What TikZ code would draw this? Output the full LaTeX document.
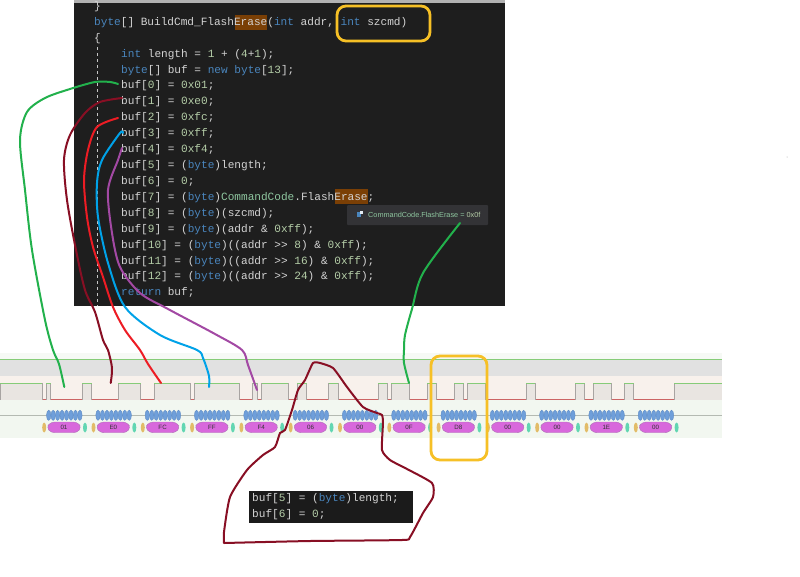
\documentclass[tikz,border=0pt]{standalone}
\usepackage{fontspec}
\setmainfont{Liberation Sans}
\setmonofont{Liberation Mono}
\definecolor{panel}{HTML}{1E1E1E}
\definecolor{codetxt}{HTML}{D4D4D4}
\definecolor{kwblue}{HTML}{4A86BE}
\definecolor{numgreen}{HTML}{B5CEA8}
\definecolor{tygreen}{HTML}{8FC7A0}
\definecolor{hilite}{HTML}{7A3F05}
\definecolor{tipbg}{HTML}{333336}
\definecolor{gold}{HTML}{F6C026}
\definecolor{strokegreen}{HTML}{22B14C}
\definecolor{strokedark}{HTML}{880F24}
\definecolor{strokered}{HTML}{ED1C24}
\definecolor{strokeblue}{HTML}{00A2E8}
\definecolor{strokepurple}{HTML}{A349A4}
\definecolor{HLblue}{HTML}{6F9FDA}
\definecolor{HLblueD}{HTML}{5F8CC6}
\definecolor{HLpink}{HTML}{D868DC}
\definecolor{HLpinkD}{HTML}{B070B8}
\definecolor{HLyel}{HTML}{E2BC68}
\definecolor{HLteal}{HTML}{62D6B2}
\definecolor{bandtop}{HTML}{F6F9F5}
\definecolor{bandgrey}{HTML}{E1E1E1}
\definecolor{bandpink}{HTML}{F8F1EC}
\definecolor{bandgreen}{HTML}{F2F7F0}
\definecolor{pulsefill}{HTML}{E9E5E1}
\definecolor{wavegreen}{HTML}{86CC78}
\definecolor{wavered}{HTML}{CC6464}
\definecolor{waveside}{HTML}{A8A4A2}
\definecolor{midline}{HTML}{B4BAB2}
\newcommand{\kw}[1]{\textcolor{kwblue}{#1}}
\newcommand{\nm}[1]{\textcolor{numgreen}{#1}}
\newcommand{\ty}[1]{\textcolor{tygreen}{#1}}
\tikzset{
  codeline/.style={anchor=base west,inner sep=0pt,text=codetxt,font=\ttfamily\fontsize{11.1}{13}\selectfont},
  bytelabel/.style={inner sep=0pt,text=black!80,font=\fontsize{6.2}{7}\selectfont},
  freehand/.style={line width=2pt,line cap=round,line join=round},
  goldbox/.style={draw=gold,line width=2.8pt,rounded corners=9pt},
  bitdot/.style={fill=HLblue,draw=HLblueD,line width=0.4pt},
}
\begin{document}
\begin{tikzpicture}[x=1pt,y=-1pt]
\useasboundingbox (0,0) rectangle (800,576);
\fill[white] (0,0) rectangle (800,576);
% code panel
\fill[gray!60] (74,0) rectangle (505,3);
\fill[panel] (74,3) rectangle (505,306);
\fill[hilite] (235,15) rectangle (267,30);
\fill[hilite] (335,189) rectangle (368,204);
\draw[gray!45,dashed,line width=0.4pt] (97,47) -- (97,306);
\node[codeline] (l0) at (94,9.5) {\}};
\node[codeline] (l1) at (94,25.5) {\kw{byte}[] BuildCmd\_FlashErase(\kw{int} addr, \kw{int} szcmd)};
\node[codeline] (l2) at (94,41.5) {\{};
\node[codeline] (l3) at (121,57.5) {\kw{int} length = \nm{1} + (\nm{4}+\nm{1});};
\node[codeline] (l4) at (121,73.5) {\kw{byte}[] buf = \kw{new} \kw{byte}[\nm{13}];};
\node[codeline] (b0) at (121,88.5) {buf[\nm{0}] = \nm{0x01};};
\node[codeline] (b1) at (121,104.5) {buf[\nm{1}] = \nm{0xe0};};
\node[codeline] (b2) at (121,120.5) {buf[\nm{2}] = \nm{0xfc};};
\node[codeline] (b3) at (121,136.5) {buf[\nm{3}] = \nm{0xff};};
\node[codeline] (b4) at (121,152.5) {buf[\nm{4}] = \nm{0xf4};};
\node[codeline] (b5) at (121,168.5) {buf[\nm{5}] = (\kw{byte})length;};
\node[codeline] (b6) at (121,184.5) {buf[\nm{6}] = \nm{0};};
\node[codeline] (b7) at (121,200.5) {buf[\nm{7}] = (\kw{byte})\ty{CommandCode}.FlashErase;};
\node[codeline] (b8) at (121,216.5) {buf[\nm{8}] = (\kw{byte})(szcmd);};
\node[codeline] (b9) at (121,232.5) {buf[\nm{9}] = (\kw{byte})(addr \& \nm{0xff});};
\node[codeline] (b10) at (121,248.5) {buf[\nm{10}] = (\kw{byte})((addr >{}> \nm{8}) \& \nm{0xff});};
\node[codeline] (b11) at (121,264) {buf[\nm{11}] = (\kw{byte})((addr >{}> \nm{16}) \& \nm{0xff});};
\node[codeline] (b12) at (121,279.5) {buf[\nm{12}] = (\kw{byte})((addr >{}> \nm{24}) \& \nm{0xff});};
\node[codeline] (ret) at (121,295.5) {\kw{return} buf;};
% tooltip
\fill[tipbg,rounded corners=1pt] (347,205) rectangle (488,225);
\fill[kwblue] (357,212) rectangle (361,217);
\fill[white!85!kwblue] (359.5,210.5) rectangle (362.5,214);
\node[anchor=base west,inner sep=0pt,text=tygreen,font=\fontsize{7.3}{9}\selectfont] (tip) at (368,217.5) {CommandCode.FlashErase = \nm{0x0f}};
% waveform bands
\fill[bandtop] (0,353) rectangle (722,359);
\fill[bandgrey] (0,360) rectangle (722,376);
\fill[bandpink] (0,376) rectangle (722,400);
\fill[bandgreen] (0,400) rectangle (722,438);
\draw[wavegreen,line width=0.7pt] (0,359.3) -- (722,359.3);
\draw[midline,line width=0.5pt] (0,415) -- (722,415);
% low parts
\foreach \a/\b in {42.3/46.3,50.7/82.3,91.7/118.3,140.7/154.3,190/194.7,239.3/252.7,257.3/261.7,288.3/297.3,306.7/328.7,338.3/378,387.3/391.3,409.3/427.3,436.3/454.3,463.7/467.7,485.7/526.3,535.3/575.3,584.7/593,611.3/624.3,633.7/674}
  \draw[wavered,line width=0.8pt] (\a,399.7) -- (\b,399.7);
% high parts
\foreach \a/\b in {0/42.3,46.3/50.7,82.3/91.7,118.3/140.7,154.3/190,194.7/239.3,252.7/257.3,261.7/288.3,297.3/306.7,328.7/338.3,378/387.3,391.3/409.3,427.3/436.3,454.3/463.7,467.7/485.7,526.3/535.3,575.3/584.7,593/611.3,624.3/633.7,674/722}{
  \fill[pulsefill] (\a,383.3) rectangle (\b,399.7);
  \draw[waveside,line width=0.7pt] (\a,399.7) -- (\a,383.3);
  \draw[waveside,line width=0.7pt] (\b,383.3) -- (\b,399.7);
  \draw[wavegreen,line width=0.8pt] (\a,383.3) -- (\b,383.3);
}
\fill[white] (722,376) rectangle (724,400);
% decoded bytes
\foreach \i/\t in {0/01,1/E0,2/FC,3/FF,4/F4,5/06,6/00,7/0F,8/D8,9/00,10/00,11/1E,12/00}{
  \pgfmathsetmacro{\c}{64+49.3*\i}
  \foreach \k in {0,...,7}
    \path[bitdot] ({\c-15.3+\k*4.46},415.3) ellipse [x radius=2.2,y radius=5.1];
  \fill[HLyel] (\c-19.8,427.5) ellipse [x radius=2,y radius=5];
  \fill[HLteal] (\c+21,427.5) ellipse [x radius=2,y radius=5];
  \draw[fill=HLpink,draw=HLpinkD,line width=0.4pt,rounded corners=3.5pt] (\c-17.5,427.3) -- (\c-13,422) -- (\c+13,422) -- (\c+17.5,427.3) -- (\c+13,432.7) -- (\c-13,432.7) -- cycle;
  \node[bytelabel] (byte\i) at (\c,427.5) {\t};
}
% small box
\fill[panel!90!black] (249,491) rectangle (413,523);
\node[codeline] (s5) at (252,501.5) {buf[\nm{5}] = (\kw{byte})length;};
\node[codeline] (s6) at (252,517.5) {buf[\nm{6}] = \nm{0};};
% stroke ends
\coordinate (g0) at (118,84);   \coordinate (g1) at (64.3,387);
\coordinate (d0) at (122,98);   \coordinate (d1) at (110.7,383);
\coordinate (r0) at (118,118);  \coordinate (r1) at (161,383);
\coordinate (u0) at (123,133);  \coordinate (u1) at (209,387);
\coordinate (p0) at (122,148);  \coordinate (p1) at (257,390);
\coordinate (e0) at (460,223);  \coordinate (e1) at (409,383);
\coordinate (w0) at (320,363);
% strokes
\draw[freehand,strokegreen] plot[smooth,tension=0.5] coordinates {(g0) (110,82) (95,82) (70,89) (45,98) (27,112) (20,140) (25,190) (32,250) (45,320) (53,350) (59,364) (g1)};
\draw[freehand,strokedark] plot[smooth,tension=0.5] coordinates {(d0) (100,102) (85,113) (70,135) (64,160) (67,200) (76,250) (85,290) (95,312) (103,340) (108,350) (112,368) (d1)};
\draw[freehand,strokered] plot[smooth,tension=0.5] coordinates {(r0) (97,127) (88,150) (84,180) (87,217) (93,247) (103,277) (113,307) (125,330) (140,350) (148,364) (r1)};
\draw[freehand,strokeblue] plot[smooth,tension=0.5] coordinates {(u0) (120,133) (102,160) (97,183) (98,217) (108,263) (125,307) (160,335) (197,350) (203,358) (209,376) (u1)};
\draw[freehand,strokepurple] plot[smooth,tension=0.5] coordinates {(p0) (118,160) (108,190) (112,233) (120,267) (140,293) (168,309) (215,334) (242,350) (248,365) (p1)};
\draw[freehand,strokegreen] plot[smooth,tension=0.5] coordinates {(e0) (423,273) (412,309) (405,335) (404,350) (404,363) (e1)};
\draw[freehand,strokedark] plot[smooth,tension=0.35] coordinates {(w0) (333,368) (347,387) (363,407) (377,413) (382,415) (383,423) (382,450) (390,460) (407,469) (432,483) (433,497) (423,513) (410,537) (402,540) (310,541) (224,543)} -- plot[smooth,tension=0.35] coordinates {(224,543) (224,532) (230,497) (247,470) (263,455) (275,447) (280,433) (285,430) (292,410) (298,390) (305,380) (313,363) (w0)};
% gold highlights
\draw[goldbox] (337,6) rectangle (430,41);
\draw[goldbox] (431,356) rectangle (487,460);
% stray dot
\fill[gray!70] (787,157) circle (0.5);
\end{tikzpicture}
\end{document}
